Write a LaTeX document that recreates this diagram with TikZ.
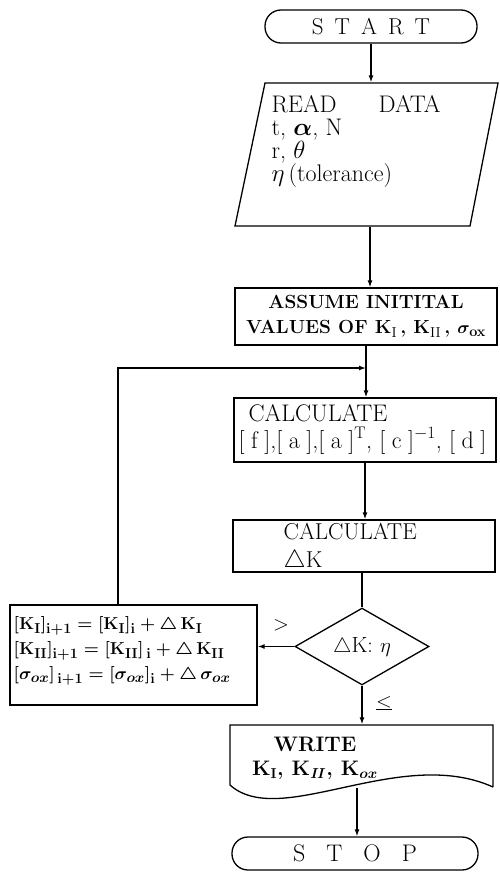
\documentclass[tikz,border=0pt]{standalone}
\usepackage{bm}
\usetikzlibrary{shapes.geometric,arrows.meta}
\begin{document}
\begin{tikzpicture}[x=1pt,y=-1pt,
  line width=1.3pt,
  arr/.style={-{Latex[length=7pt,width=5pt]}},
  box/.style={draw, rectangle, inner sep=0pt},
  ghost/.style={rectangle, inner sep=0pt},
  txt/.style={inner sep=0pt, align=left}]
\useasboundingbox (0,0) rectangle (499,878);
% START
\node[box, minimum width=212pt, minimum height=33pt, rounded corners=16pt,
  font=\fontsize{23}{26}\selectfont] (start) at (371,26.5)
  {S\hspace{11pt}T\hspace{11pt}A\hspace{11pt}R\hspace{11pt}T};
% READ DATA parallelogram
\draw (265,83) -- (498,83) -- (470,226) -- (235,226) -- cycle;
\node[ghost, minimum width=200pt, minimum height=143pt] (read) at (370,154.5) {};
\node[txt, anchor=north west, font=\fontsize{24}{23}\selectfont] (readtxt) at (271,95)
  {READ\hspace{42pt}DATA\\ t, $\bm{\alpha}$, N\\ r, $\theta$\\ $\eta$\,(tolerance)};
% ASSUME
\node[box, minimum width=262pt, minimum height=57pt, align=center,
  font=\bfseries\fontsize{19}{25}\selectfont] (assume) at (366,316.5)
  {ASSUME INITITAL\\VALUES OF K$_{\mathrm{I}}$\,, K$_{\mathrm{II}}$\,, $\bm{\sigma}_{\mathbf{ox}}$};
\coordinate (lp) at (366,368);
% CALCULATE 1
\node[box, minimum width=262pt, minimum height=64pt] (calc1) at (365,430) {};
\node[txt, anchor=west, font=\fontsize{24}{27}\selectfont] (c1txt) at (238,429)
  {\hspace{10pt}CALCULATE\\{}[\hspace{6.5pt}f\hspace{6.5pt}],[\hspace{6.5pt}a\hspace{6.5pt}],[\hspace{6.5pt}a\hspace{6.5pt}]\textsuperscript{T}, [\hspace{6.5pt}c\hspace{6.5pt}]\textsuperscript{$-1$}, [\hspace{6.5pt}d\hspace{6.5pt}]};
% CALCULATE 2
\node[box, minimum width=262pt, minimum height=52pt] (calc2) at (364,546) {};
\node[txt, anchor=north west, font=\fontsize{23}{23}\selectfont] (c2txt) at (283,523)
  {CALCULATE};
\node[txt, anchor=north west, font=\fontsize{23}{23}\selectfont] (c2dk) at (283,550)
  {$\triangle$K};
% decision
\node[draw, diamond, minimum width=134pt, minimum height=67pt, inner sep=0pt,
  font=\fontsize{22}{24}\selectfont] (dia) at (362,646.5) {$\triangle$K:\,\,$\eta$};
% update box
\node[box, minimum width=247pt, minimum height=100pt] (upd) at (133.5,655) {};
\node[txt, anchor=west, font=\bfseries\boldmath\fontsize{19}{25}\selectfont] (updtxt) at (13,651)
  {$[\mathrm{K}_{\mathrm{I}}]_{\mathrm{i+1}}=[\mathrm{K}_{\mathrm{I}}]_{\mathrm{i}}+\triangle\,\mathrm{K}_{\mathrm{I}}$\\
   $[\mathrm{K}_{\mathrm{II}}]_{\mathrm{i+1}}=[\mathrm{K}_{\mathrm{II}}]_{\mathrm{\,i}}+\triangle\,\mathrm{K}_{\mathrm{II}}$\\
   $[\sigma_{ox}]_{\mathrm{\,i+1}}=[\sigma_{ox}]_{\mathrm{i}}+\triangle\,\sigma_{ox}$};
% WRITE document shape
\draw (493,787) -- (493,725) -- (230,725) -- (230,785)
  .. controls (280,830) and (400,745) .. (493,787);
\node[ghost, minimum width=263pt, minimum height=62pt] (write) at (357,756) {};
\node[inner sep=0pt, align=center, font=\bfseries\boldmath\fontsize{21}{24}\selectfont] (wtxt) at (315,758)
  {WRITE\\K$_{\mathrm{I}}$, K$_{\mathit{II}}$, K$_{ox}$};
% STOP
\node[box, minimum width=246pt, minimum height=33pt, rounded corners=16pt,
  font=\fontsize{24}{28}\selectfont] (stop) at (355,853.5)
  {S\hspace{21pt}T\hspace{21pt}O\hspace{21pt}P\hspace{18pt}};
% labels
\node[font=\fontsize{20}{24}\selectfont] (gt) at (281,625) {$>$};
\node[font=\fontsize{20}{24}\selectfont] (le) at (384,703) {$\underline{<}$};
% connectors
\draw[arr] (start.south) -- (start.south |- read.north);
\draw[arr] (read.south) -- (read.south |- assume.north);
\draw[arr] (assume.south) -- (assume.south |- calc1.north);
\draw[arr] ([xshift=-15.5pt]upd.north) |- (lp);
\draw[arr] (calc1.south) -- (calc1.south |- calc2.north);
\draw (dia.north |- calc2.south) -- (dia.north);
\draw[arr] (dia.west) -- (dia.west -| upd.east);
\draw[arr] (dia.south) -- (dia.south |- write.north);
\draw[arr] (write.south) -- (write.south |- stop.north);
\end{tikzpicture}
\end{document}
